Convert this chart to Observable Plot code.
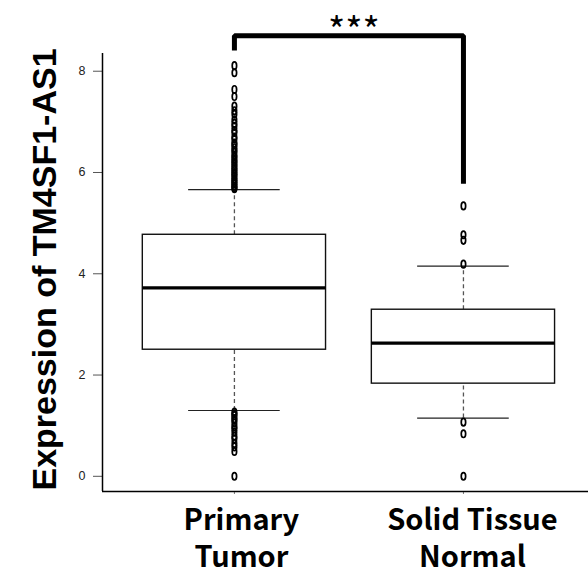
<!DOCTYPE html>
<html>
<head>
<meta charset="utf-8">
<script src="https://cdn.jsdelivr.net/npm/d3@7"></script>
<script src="https://cdn.jsdelivr.net/npm/@observablehq/plot@0.6"></script>
<style>
  html, body { margin: 0; padding: 0; background: #fff; }
</style>
</head>
<body>
<div id="chart"></div>
<script>
// ---- data ----
const categories = ["Primary Tumor", "Solid Tissue Normal"];
const labelLine1 = ["Primary", "Solid Tissue"];
const labelLine2 = ["Tumor", "Normal"];
const q1 = [2.50, 1.83];
const medians = [3.72, 2.63];
const q3 = [4.77, 3.29];
const whiskerLow = [1.30, 1.15];
const whiskerHigh = [5.66, 4.15];
const outliersTumor = [8.11, 7.97, 7.64, 7.50, 7.31, 7.22, 7.15, 7.04, 6.97, 6.91, 6.83, 6.79, 6.70, 6.66,
  6.58, 6.55, 6.49, 6.44, 6.40, 6.33, 6.30, 6.24, 6.21, 6.16, 6.12, 6.07, 6.04, 5.99, 5.96, 5.92, 5.87,
  5.84, 5.80, 5.77, 5.73, 5.70, 5.68,
  1.27, 1.23, 1.20, 1.14, 1.11, 1.05, 0.98, 0.94, 0.87, 0.79, 0.74, 0.65, 0.58, 0.49, 0.00];
const outliersNormal = [5.34, 4.77, 4.66, 4.19, 1.07, 0.84, 0.00];
const yTicks = [0, 2, 4, 6, 8];
const yTitle = "Expression of TM4SF1-AS1";
const significance = "***";
const bracketLeftBottom = 8.41, bracketTop = 8.70, bracketRightBottom = 5.78;

// ---- tables ----
const stats = categories.map((c, i) => ({
  c, i, l1: labelLine1[i], l2: labelLine2[i], q1: q1[i], median: medians[i], q3: q3[i],
  lo: whiskerLow[i], hi: whiskerHigh[i]
}));
const outliers = [
  ...outliersTumor.map(v => ({i: 0, v})),
  ...outliersNormal.map(v => ({i: 1, v}))
];
const bracket = [
  {x: 0, y: bracketLeftBottom},
  {x: 0, y: bracketTop},
  {x: 1, y: bracketTop},
  {x: 1, y: bracketRightBottom}
];

const boxHalf = 0.4, capHalf = 0.2;
const xDomain = [-0.576, 1.546];
const yDomain = [-0.30, 8.35];

// squashed open circle (as in the horizontally compressed R output)
const ellipseSymbol = {
  draw(ctx) {
    const rx = 2.2, ry = 3.7, k = 0.5523;
    ctx.moveTo(rx, 0);
    ctx.bezierCurveTo(rx, ry * k, rx * k, ry, 0, ry);
    ctx.bezierCurveTo(-rx * k, ry, -rx, ry * k, -rx, 0);
    ctx.bezierCurveTo(-rx, -ry * k, -rx * k, -ry, 0, -ry);
    ctx.bezierCurveTo(rx * k, -ry, rx, -ry * k, rx, 0);
    ctx.closePath();
  }
};

const labelFont = "'Noto Sans CJK JP', 'Noto Sans', sans-serif";
const labelDx = [7, 9];
const labelStyle = (i) => ({
  fontSize: 29, fontWeight: "bold", fontFamily: labelFont, fill: "#000", dx: labelDx[i],
  frameAnchor: "bottom", lineAnchor: "top",
  style: i === 0 ? {letterSpacing: "1.2px"} : {letterSpacing: "1.6px", wordSpacing: "10px"}
});

const chart = Plot.plot({
  width: 588,
  height: 579,
  marginLeft: 102,
  marginRight: 0,
  marginTop: 53,
  marginBottom: 88,
  style: {fontFamily: "'Liberation Sans', Arial, sans-serif", background: "#fff", color: "#000", overflow: "visible"},
  x: {domain: xDomain, axis: null},
  y: {domain: yDomain, axis: null},
  marks: [
    Plot.axisY({ticks: yTicks, tickSize: 9, tickPadding: 8, fontSize: 12.5, stroke: "#555", fill: "#222"}),
    Plot.axisX({ticks: [0, 1], tickSize: 3, tickFormat: () => "", stroke: "#777"}),
    Plot.ruleY([yDomain[0]], {stroke: "#000", strokeWidth: 1.5}),
    Plot.ruleX([xDomain[0]], {stroke: "#000", strokeWidth: 1.5}),
    // whiskers
    Plot.ruleX(stats, {x: "i", y1: "lo", y2: "q1", stroke: "#555", strokeWidth: 1.3, strokeDasharray: "4,3"}),
    Plot.ruleX(stats, {x: "i", y1: "q3", y2: "hi", stroke: "#555", strokeWidth: 1.3, strokeDasharray: "4,3"}),
    Plot.ruleY(stats, {y: "hi", x1: d => d.i - capHalf, x2: d => d.i + capHalf, stroke: "#222", strokeWidth: 1.2}),
    Plot.ruleY(stats, {y: "lo", x1: d => d.i - capHalf, x2: d => d.i + capHalf, stroke: "#222", strokeWidth: 1.2}),
    // boxes
    Plot.rect(stats, {x1: d => d.i - boxHalf, x2: d => d.i + boxHalf, y1: "q1", y2: "q3",
      fill: "#fff", stroke: "#111", strokeWidth: 1.4}),
    Plot.ruleY(stats, {y: "median", x1: d => d.i - boxHalf, x2: d => d.i + boxHalf, stroke: "#000", strokeWidth: 3.2}),
    // outliers (open symbols)
    Plot.dot(outliers, {x: "i", y: "v", symbol: ellipseSymbol, r: 3, fill: "none", stroke: "#000", strokeWidth: 1.7}),
    // significance bracket
    Plot.line(bracket, {x: "x", y: "y", stroke: "#000", strokeWidth: 5, strokeLinejoin: "miter", strokeLinecap: "butt"}),
    Plot.text([significance], {x: () => 0.5, y: () => bracketTop, text: d => d, dx: 5, dy: 8,
      lineAnchor: "bottom", fontSize: 37, fontFamily: labelFont, fill: "#000"}),
    // category labels (two lines each)
    ...[0, 1].flatMap(i => [
      Plot.text([stats[i]], {x: "i", text: "l1", dy: 18, ...labelStyle(i)}),
      Plot.text([stats[i]], {x: "i", text: "l2", dy: 55, ...labelStyle(i)})
    ]),
    // y title
    Plot.text([yTitle], {frameAnchor: "left", text: d => d, rotate: -90, textAnchor: "middle", lineAnchor: "bottom",
      dx: -47, dy: -3, fontSize: 34, fontWeight: "bold", fill: "#000"})
  ]
});
document.getElementById("chart").appendChild(chart);
</script>
</body>
</html>
